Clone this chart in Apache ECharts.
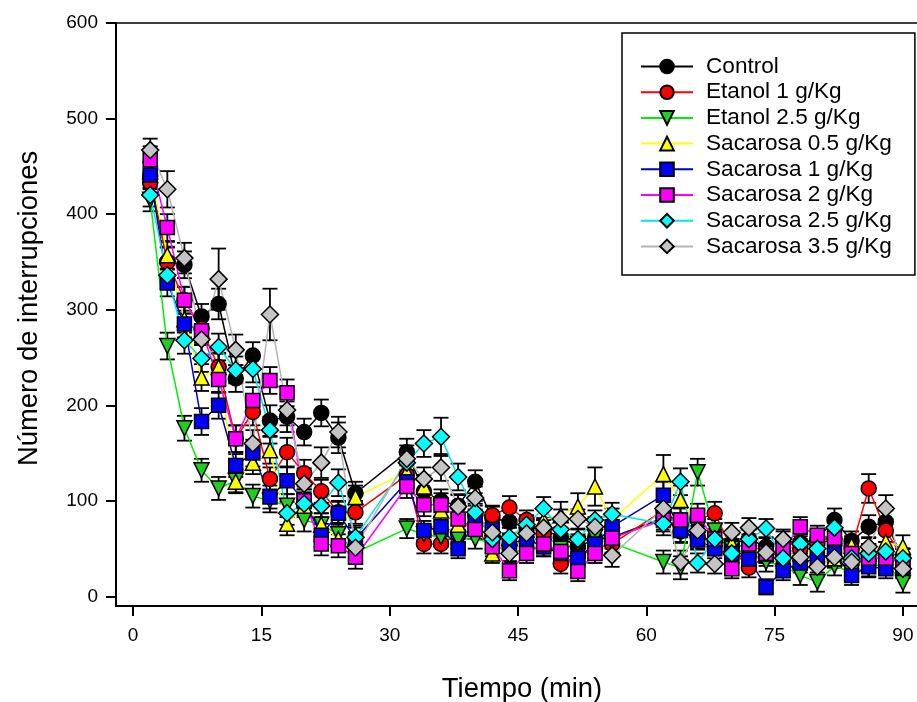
<!DOCTYPE html>
<html>
<head>
<meta charset="utf-8">
<script src="https://cdn.jsdelivr.net/npm/echarts@6/dist/echarts.min.js"></script>
<style>
html,body{margin:0;padding:0;background:#fff;}
#chart{width:917px;height:702px;}
</style>
</head>
<body>
<div id="chart"></div>
<script>
var times = [2,4,6,8,10,12,14,16,18,20,22,24,26, 32,34,36,38,40,42,44,46,48,50,52,54,56, 62,64,66,68,70,72,74,76,78,80,82,84,86,88,90];
var xTicks = [0,15,30,45,60,75,90];
var yTicks = [0,100,200,300,400,500,600];
var seriesNames = ["Control","Etanol 1 g/Kg","Etanol 2.5 g/Kg","Sacarosa 0.5 g/Kg","Sacarosa 1 g/Kg","Sacarosa 2 g/Kg","Sacarosa 2.5 g/Kg","Sacarosa 3.5 g/Kg"];

var control = [440,350,347,293,306,228,252,184,188,172,192,166,108, 151,110,100,95,120,82,78,72,70,62,52,60,62, 82,68,62,58,55,60,52,58,56,60,80,58,73,78,40];
var controlErr = [14,16,14,13,16,14,14,16,16,14,14,16,12, 14,12,12,12,12,12,12,10,10,10,12,12,12, 12,12,12,10,10,10,10,10,10,10,12,10,12,12,10];

var etanol1 = [433,350,310,280,240,165,193,123,151,129,110,88,88, 127,55,55,65,85,85,93,80,65,34,42,50,55, 90,75,80,87,50,30,42,45,50,55,60,50,113,69,40];
var etanol1Err = [12,15,14,14,15,14,14,12,15,14,12,12,12, 12,10,10,10,12,10,12,10,10,10,10,10,10, 12,12,10,12,10,10,10,10,10,10,10,10,15,12,10];

var etanol25 = [415,262,176,132,113,121,105,100,95,80,75,65,46, 71,65,62,60,60,56,45,50,52,50,55,62,56, 36,30,130,69,50,45,36,32,22,15,32,25,30,35,14];
var etanol25Err = [12,14,13,12,12,12,12,12,12,12,12,12,10, 10,10,10,10,10,10,10,10,10,10,10,10,10, 12,12,14,12,10,10,10,10,10,10,10,10,10,10,10];

var sac05 = [445,357,290,229,240,120,140,153,76,95,75,60,104, 130,115,90,75,85,45,62,70,80,85,94,115,80, 128,101,75,60,55,50,45,40,45,50,40,53,45,57,52];
var sac05Err = [12,14,14,14,14,12,12,14,12,12,12,12,12, 12,12,12,10,10,10,10,10,12,14,14,20,12, 20,15,12,10,10,10,10,10,10,10,10,10,10,12,12];

var sac1 = [441,328,285,183,200,137,150,104,121,100,64,87,60, 120,69,73,50,77,70,55,60,52,45,40,55,73, 106,69,59,50,45,39,10,27,35,40,45,22,31,29,30];
var sac1Err = [13,14,14,14,14,12,14,12,14,12,12,12,12, 12,10,10,10,10,10,10,10,10,10,10,10,12, 14,12,10,10,10,10,8,10,10,10,10,10,10,10,10];

var sac2 = [457,386,310,278,227,165,205,226,213,100,55,53,41, 115,96,96,81,70,52,27,45,55,47,26,45,61, 80,80,85,60,29,55,45,50,73,64,61,45,40,40,35];
var sac2Err = [14,14,14,14,14,14,14,14,14,12,12,12,12, 12,12,12,12,10,10,10,10,10,10,10,10,10, 12,12,12,10,10,10,10,10,10,10,10,10,10,10,10];

var sac25 = [420,336,268,249,261,237,238,174,87,97,95,119,62, 140,160,167,125,88,60,62,75,92,70,60,80,86, 76,120,35,60,45,60,71,40,55,50,72,40,45,47,40];
var sac25Err = [12,14,14,14,14,14,14,14,12,12,12,14,12, 12,14,20,14,12,10,10,10,12,10,10,10,12, 12,14,10,10,10,10,10,10,10,10,10,10,10,10,10];

var sac35 = [467,426,354,269,332,258,160,295,195,118,140,172,51, 144,123,135,94,103,67,45,66,72,81,81,73,43, 92,36,69,34,67,72,46,60,41,31,41,36,52,92,29];
var sac35Err = [12,19,16,16,32,16,14,27,16,16,16,16,12, 14,12,14,12,12,10,10,10,10,10,10,10,12, 14,12,10,10,10,10,10,10,10,10,10,10,10,14,10];

var allValues = [control, etanol1, etanol25, sac05, sac1, sac2, sac25, sac35];
var allErrors = [controlErr, etanol1Err, etanol25Err, sac05Err, sac1Err, sac2Err, sac25Err, sac35Err];

var styles = [
  {line:'#000000', fill:'#000000', symbol:'circle', size:15},
  {line:'#ff0000', fill:'#ff0000', symbol:'circle', size:15},
  {line:'#00ee00', fill:'#22cc22', symbol:'path://M0,0 L10,0 L5,9 Z', size:15},
  {line:'#ffff00', fill:'#ffff00', symbol:'triangle', size:15},
  {line:'#0000c0', fill:'#0000ff', symbol:'rect', size:14},
  {line:'#ff00ff', fill:'#ff00ff', symbol:'rect', size:14},
  {line:'#00e6e6', fill:'#00ffff', symbol:'diamond', size:17},
  {line:'#b4b4b4', fill:'#c4c4c4', symbol:'diamond', size:17}
];

function errRender(params, api) {
  var x = api.value(0);
  var lo = api.coord([x, api.value(1)]);
  var hi = api.coord([x, api.value(2)]);
  var hw = 7.5;
  var st = {stroke:'#000', lineWidth:1.8};
  return {type:'group', children:[
    {type:'line', shape:{x1:lo[0], y1:lo[1], x2:hi[0], y2:hi[1]}, style:st},
    {type:'line', shape:{x1:hi[0]-hw, y1:hi[1], x2:hi[0]+hw, y2:hi[1]}, style:st},
    {type:'line', shape:{x1:lo[0]-hw, y1:lo[1], x2:lo[0]+hw, y2:lo[1]}, style:st}
  ]};
}

var series = [];
for (var s = 0; s < seriesNames.length; s++) {
  var vals = allValues[s], errs = allErrors[s];
  var errData = times.map(function(t, i){ return [t, vals[i]-errs[i], vals[i]+errs[i]]; });
  series.push({
    name: seriesNames[s] + ' err',
    type: 'custom',
    renderItem: errRender,
    data: errData,
    encode: {x:0, y:[1,2]},
    silent: true
  });
  series.push({
    name: seriesNames[s],
    type: 'line',
    data: times.map(function(t, i){ return [t, vals[i]]; }),
    symbol: styles[s].symbol,
    symbolSize: styles[s].size,
    showAllSymbol: true,
    lineStyle: {color: styles[s].line, width: 1.5},
    itemStyle: {color: styles[s].fill, borderColor:'#000', borderWidth:1.5},
    emphasis: {disabled: true}
  });
}

var chart = echarts.init(document.getElementById('chart'));
var font = "'Liberation Sans', Arial, sans-serif";
chart.setOption({
  animation: false,
  backgroundColor: '#fff',
  textStyle: {fontFamily: font, color:'#000'},
  grid: {left:116, top:23, width:804, height:583, outerBoundsMode:'none', containLabel:false,
         show:true, borderColor:'#000', borderWidth:1.5, backgroundColor:'transparent'},
  xAxis: {
    type:'value', min:-2, max:92,
    name:'Tiempo (min)', nameLocation:'middle', nameGap:70,
    nameTextStyle:{fontSize:27.4, color:'#000', fontFamily:font, padding:[0,0,0,8]},
    axisLine:{show:true, onZero:false, lineStyle:{color:'#000', width:2}},
    axisTick:{show:true, customValues:xTicks, length:10, lineStyle:{color:'#000', width:2}},
    axisLabel:{customValues:xTicks, fontSize:19, color:'#000', margin:20, fontFamily:font},
    splitLine:{show:false}
  },
  yAxis: {
    type:'value', min:-10, max:600,
    name:'Número de interrupciones', nameLocation:'middle', nameGap:73,
    nameTextStyle:{fontSize:27.4, color:'#000', fontFamily:font, padding:[0,0,0,12]},
    axisLine:{show:true, onZero:false, lineStyle:{color:'#000', width:2}},
    axisTick:{show:true, customValues:yTicks, length:10, lineStyle:{color:'#000', width:2}},
    axisLabel:{customValues:yTicks, fontSize:19, color:'#000', margin:18, fontFamily:font},
    splitLine:{show:false}
  },
  legend: {
    data: seriesNames,
    orient:'vertical', left:622, top:33,
    padding:[22, 23, 17, 18],
    itemWidth:52, itemHeight:17, itemGap:2.7,
    backgroundColor:'#fff', borderColor:'#000', borderWidth:1.5, borderRadius:0,
    textStyle:{fontSize:22.6, color:'#000', fontFamily:font, lineHeight:22, padding:[0,0,0,8]},
    selectedMode:false
  },
  series: series
});
</script>
</body>
</html>
